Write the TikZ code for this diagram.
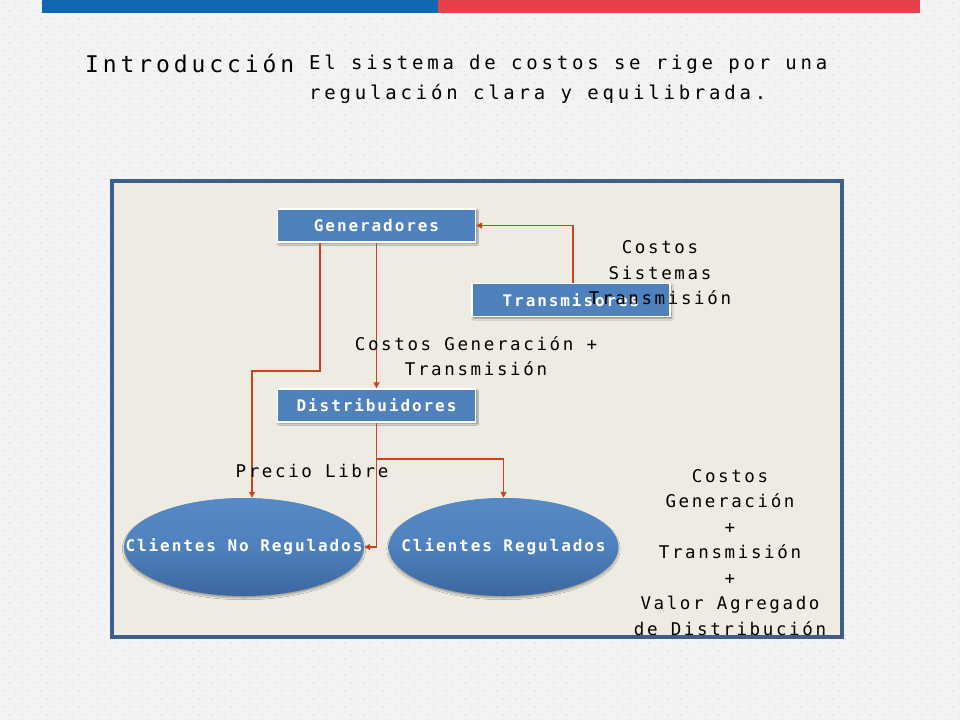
\documentclass[tikz,border=0pt]{standalone}
\usepackage{fontspec}
\usetikzlibrary{shapes.geometric,arrows.meta,shadows.blur}
\newfontfamily\titlefont{DejaVu Sans Mono}[LetterSpace=17]
\newfontfamily\subfont{DejaVu Sans Mono}[LetterSpace=20]
\newfontfamily\lblfont{DejaVu Sans Mono}[LetterSpace=15]
\newfontfamily\boxfont{DejaVu Sans Mono Bold}[LetterSpace=12]
\definecolor{bgc}{RGB}{243,243,243}
\definecolor{dotc}{RGB}{226,226,226}
\definecolor{barblue}{RGB}{16,104,178}
\definecolor{barred}{RGB}{229,65,75}
\definecolor{panelfill}{RGB}{238,236,226}
\definecolor{panelline}{RGB}{62,94,140}
\definecolor{boxblue}{RGB}{79,129,189}
\definecolor{elltop}{RGB}{86,137,198}
\definecolor{ellbot}{RGB}{60,102,160}
\definecolor{linec}{RGB}{200,70,30}
\tikzset{
  boxnode/.style={rectangle, fill=boxblue, draw=white, line width=1.2pt,
    minimum width=198pt, minimum height=33pt, inner sep=0pt,
    text=white, font={\boxfont\fontsize{16}{18}\selectfont},
    blur shadow={shadow xshift=1.5pt, shadow yshift=-1.8pt, shadow blur steps=4, shadow opacity=45}},
  ellnode/.style={ellipse, top color=elltop, bottom color=ellbot, middle color=boxblue,
    minimum height=98pt, inner sep=0pt,
    blur shadow={shadow xshift=0pt, shadow yshift=-2pt, shadow blur steps=4, shadow opacity=35}},
  elltext/.style={text=white, inner sep=0pt, font={\boxfont\fontsize{16}{18}\selectfont}},
  lbl/.style={align=center, text=black, inner sep=0pt,
    font={\lblfont\fontsize{17.5}{25.5}\selectfont}},
  arr/.style={draw=linec, line width=1.3pt, -{Triangle[length=6pt,width=6pt]}}
}
\begin{document}
\begin{tikzpicture}[x=1pt,y=-1pt]
\useasboundingbox (0,0) rectangle (960,720);
\fill[bgc] (0,0) rectangle (960,720);
\fill[dotc] \foreach \r in {0,...,89} { \foreach \c in {0,...,76} {
   ({\c*12.67 + mod(\r,2)*6.33 + 2}, {\r*8 + 2}) rectangle ++(1.7,1.7) } };
% top bar
\fill[barblue] (42,0) rectangle (438,13);
\fill[barred] (438,0) rectangle (920,13);
% title
\node[anchor=west, inner sep=0pt, font={\titlefont\fontsize{23}{26}\selectfont}] (title) at (85,63) {Introducción};
\node[anchor=north west, align=left, inner sep=0pt, font={\subfont\fontsize{19}{30}\selectfont}] (sub) at (309,55) {El sistema de costos se rige por una\\regulación clara y equilibrada.};
% panel
\draw[line width=4pt, draw=panelline, fill=panelfill] (112,181) rectangle (842,637);
% nodes
\node[boxnode] (gen) at (376.5,225.5) {Generadores};
\node[boxnode] (trans) at (571,300) {Transmisores};
\node[boxnode] (dist) at (376.5,405.5) {Distribuidores};
\node[ellnode, minimum width=240pt, label={[elltext]center:Clientes No Regulados}] (cnr) at (244,547) {};
\node[ellnode, minimum width=230pt, label={[elltext]center:Clientes Regulados}] (cr) at (503.5,547) {};
% coordinates
\coordinate (k1) at (320,371);
\coordinate (k2) at (252,371);
\coordinate (b1) at (376.5,459);
\coordinate (t1) at (573,225.5);
% connectors
\draw[arr] (trans.north -| t1) -- (t1) -- (gen.east);
\draw[arr] (gen.south) -- (dist.north);
\draw[arr] (gen.south -| k1) -- (k1) -- (k2) -- (k2 |- cnr.north);
\draw[arr] (dist.south) |- (cnr.east);
\draw[arr] (b1) -| (cr.north);
% labels
\node[lbl] (l1) at (660,273) {Costos\\Sistemas\\Transmisión};
\node[lbl] (l2) at (476,356) {Costos Generación +\\Transmisión};
\node[lbl] (l3) at (312,471) {Precio Libre};
\node[lbl] (l4) at (730,552.5) {Costos\\Generación\\+\\Transmisión\\+\\Valor Agregado\\de Distribución};
\end{tikzpicture}
\end{document}
